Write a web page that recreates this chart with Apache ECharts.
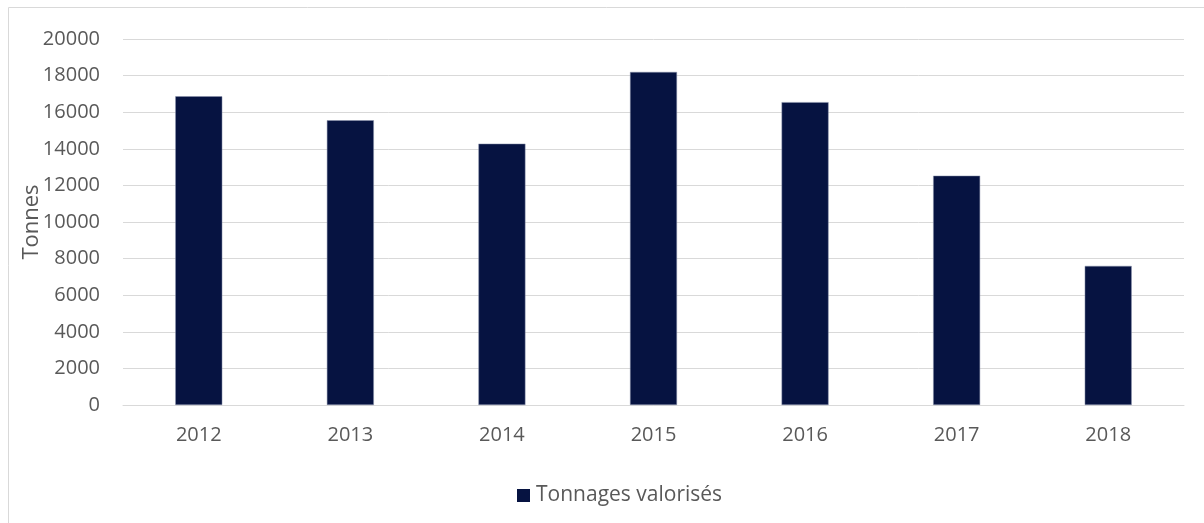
<!DOCTYPE html>
<html>
<head>
<meta charset="utf-8">
<script src="https://cdn.jsdelivr.net/npm/echarts@6/dist/echarts.min.js"></script>
<style>
  html, body { margin: 0; padding: 0; background: #fff; }
  #chart { width: 1204px; height: 523px; }
</style>
</head>
<body>
<div id="chart"></div>
<script>
// data
var years = ['2012', '2013', '2014', '2015', '2016', '2017', '2018']
var tonnages = [16870, 15560, 14280, 18200, 16550, 12530, 7600]
var seriesName = 'Tonnages valorisés'
var axisName = 'Tonnes'

var font = '"Open Sans", "Liberation Sans", sans-serif'
var textColor = '#595959'
var barColor = '#061341'

var chart = echarts.init(document.getElementById('chart'))
chart.setOption({
  animation: false,
  textStyle: { fontFamily: font },
  graphic: [{
    type: 'rect',
    shape: { x: 8.5, y: 7.5, width: 1220, height: 540 },
    style: { fill: 'none', stroke: '#d9d9d9', lineWidth: 1 },
    silent: true
  }],
  grid: {
    left: 123,
    right: 20,
    top: 39,
    bottom: 118
  },
  legend: {
    data: [seriesName],
    bottom: 12,
    left: 512,
    icon: 'rect',
    itemWidth: 13,
    itemHeight: 13,
    itemGap: 6,
    itemStyle: { borderWidth: 0 },
    textStyle: { color: textColor, fontSize: 21, fontFamily: font, padding: [0, 0, 0, 1] }
  },
  xAxis: {
    type: 'category',
    data: years,
    axisTick: { show: false },
    axisLine: { lineStyle: { color: '#d9d9d9', width: 1 } },
    axisLabel: { color: textColor, fontSize: 20, margin: 20 }
  },
  yAxis: {
    type: 'value',
    min: 0,
    max: 20000,
    interval: 2000,
    name: axisName,
    nameLocation: 'middle',
    nameGap: 80,
    nameMoveOverlap: false,
    nameTextStyle: { color: textColor, fontSize: 22 },
    axisLine: { show: false },
    axisTick: { show: false },
    axisLabel: { color: textColor, fontSize: 20, margin: 23, formatter: function (v) { return String(v) } },
    splitLine: { lineStyle: { color: '#d9d9d9', width: 1 } }
  },
  series: [{
    name: seriesName,
    type: 'bar',
    data: tonnages,
    barWidth: '31%',
    itemStyle: {
      color: barColor,
      borderColor: '#8a93ad',
      borderWidth: 0.5
    }
  }]
})
</script>
</body>
</html>
